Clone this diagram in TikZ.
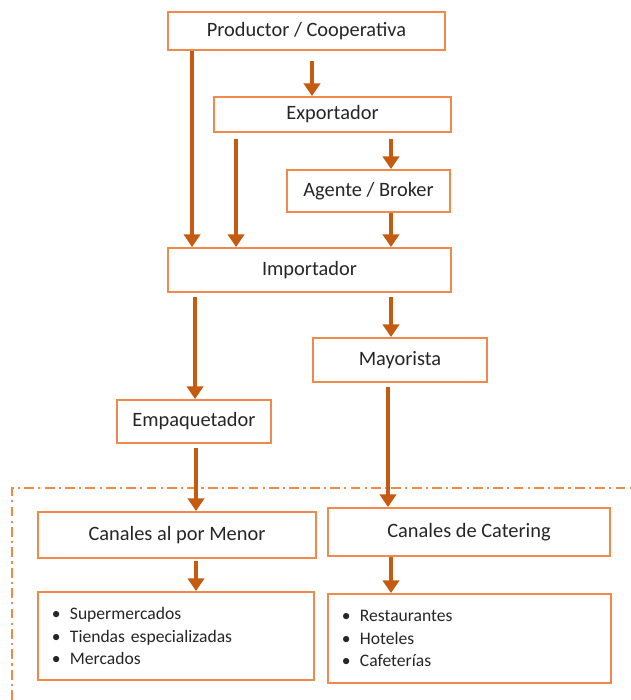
\documentclass[tikz,border=0pt]{standalone}
\usepackage{fontspec}
\setmainfont{Carlito}
\usetikzlibrary{arrows.meta,calc}
\definecolor{naranja}{HTML}{F08A4B}
\definecolor{naranjaosc}{HTML}{C55A11}
\tikzset{
  caja/.style={draw=naranja, line width=1.3pt, fill=white, inner sep=0pt, text=black!85,
    font=\fontsize{14.5}{16}\selectfont},
  lista/.style={caja, font=\fontsize{12.5}{16}\selectfont, align=left, inner xsep=0.35cm},
  flechita/.style={draw=naranjaosc, line width=3pt, -{Triangle[length=9pt,width=11.5pt,fill=naranjaosc]}},
}
\newcommand{\punto}{\makebox[12.8pt][l]{\textbullet}}

\begin{document}
\begin{tikzpicture}[x=0.025cm, y=-0.025cm]
    \useasboundingbox (0,0) rectangle (631,700);

    \node[caja, minimum width=6.925cm, minimum height=0.95cm] (prod) at (306.5,31) {Productor / Cooperativa};
    \node[caja, minimum width=5.925cm, minimum height=0.875cm] (exp) at (332.5,114.5) {Exportador};
    \node[caja, minimum width=4.075cm, minimum height=1.05cm] (ag) at (368.5,191) {Agente / Broker};
    \node[caja, minimum width=7.075cm, minimum height=1.1cm] (imp) at (309.5,270) {Importador};
    \node[caja, minimum width=4.35cm, minimum height=1.1cm] (may) at (400,360) {Mayorista};
    \node[caja, minimum width=3.85cm, minimum height=1.075cm] (emp) at (194,421.5) {Empaquetador};

    \draw[naranja, line width=0.9pt, dash pattern=on 7pt off 3pt on 1.5pt off 3pt]
        (12,700) -- (12,488) -- (631,488);

    \node[caja, minimum width=6.95cm, minimum height=1.15cm] (men) at (177,535) {Canales al por Menor};
    \node[caja, minimum width=7.05cm, minimum height=1.2cm] (cat) at (469,532) {Canales de Catering};

    \node[lista, text width=6.2cm, minimum height=2.2cm] (lmen) at (176,636)
        {\punto Supermercados\\ \punto Tiendas especializadas\\ \punto Mercados};
    \node[lista, text width=6.375cm, minimum height=2.225cm] (lcat) at (469.5,638.5)
        {\punto Restaurantes\\ \punto Hoteles\\ \punto Cafeterías};

    \draw[flechita] ($(prod.south west)+(25,0)$) coordinate (a) -- (a |- imp.north);
    \draw[flechita] ($(prod.south)+(5.5,10)$) coordinate (a) -- (a |- exp.north);
    \draw[flechita] ($(exp.south west)+(23,6)$) coordinate (a) -- (a |- imp.north);
    \draw[flechita] ($(exp.south)+(58.5,6)$) coordinate (a) -- (a |- ag.north);
    \draw[flechita] ($(ag.south)+(22.5,0)$) coordinate (a) -- (a |- imp.north);
    \draw[flechita] ($(imp.south west)+(28,4)$) coordinate (a) -- (a |- emp.north);
    \draw[flechita] ($(imp.south)+(81.5,4)$) coordinate (a) -- (a |- may.north);
    \draw[flechita] ($(may.south)+(-12,4)$) coordinate (a) -- (a |- cat.north);
    \draw[flechita] ($(emp.south)+(2,4)$) coordinate (a) -- (a |- men.north);
    \draw[flechita] ($(men.south)+(19,2)$) coordinate (a) -- (a |- lmen.north);
    \draw[flechita] ($(cat.south)+(-78,0)$) coordinate (a) -- (a |- lcat.north);
\end{tikzpicture}
\end{document}
